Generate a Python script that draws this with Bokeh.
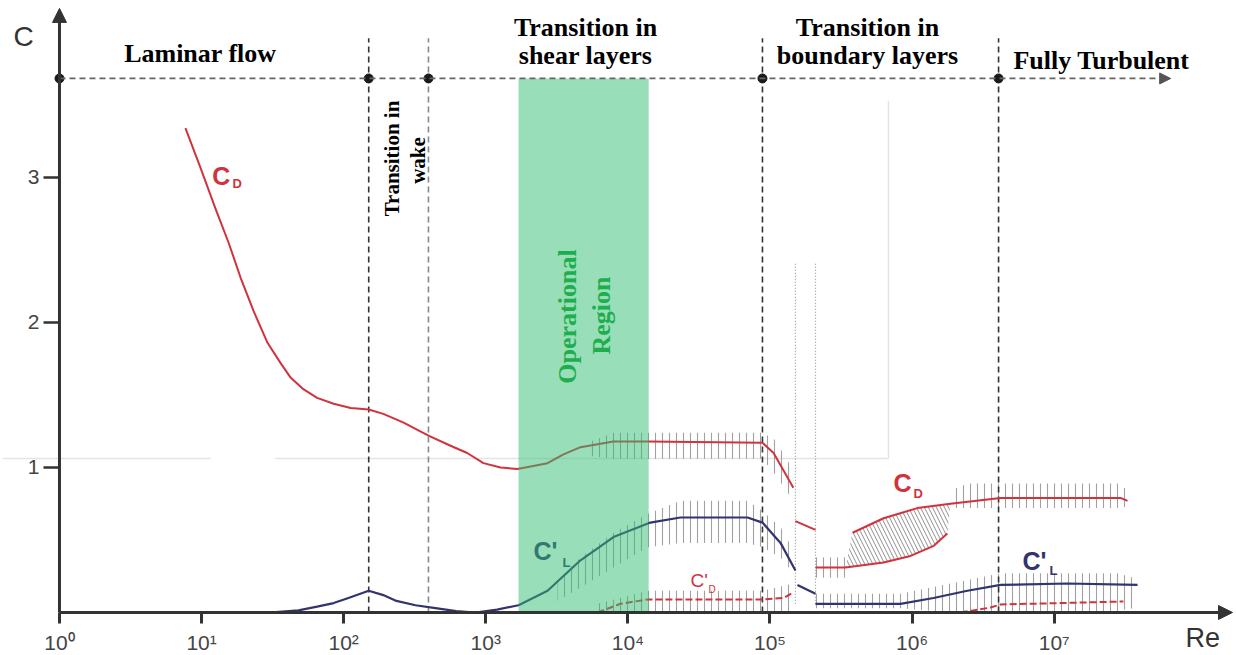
import numpy as np
from bokeh.plotting import figure
from bokeh.models import Range1d, FixedTicker, Label, Arrow, NormalHead
from bokeh.embed import file_html
from bokeh.resources import INLINE

# ---------------- data (Re, C) ----------------
CD_RE = [7.7, 9.8, 12.7, 15.5, 18.8, 23.2, 29.1, 36, 42.3, 52, 65, 85, 112, 150, 190, 264, 395, 565, 740,
         963, 1270, 1670, 2720, 3520, 4640, 7900, 13800, 88500, 106000, 146000]
CD_C = [3.34, 3.07, 2.77, 2.55, 2.31, 2.08, 1.86, 1.72, 1.62, 1.54, 1.48, 1.44, 1.41, 1.40, 1.37, 1.31, 1.22,
        1.15, 1.10, 1.03, 1.00, 0.99, 1.03, 1.09, 1.14, 1.18, 1.18, 1.17, 1.10, 0.86]
CD_MID_RE = [151000, 209000]
CD_MID_C = [0.63, 0.57]
CD_LOW_RE = [209000, 340000, 630000, 975000, 1420000, 1770000]
CD_LOW_C = [0.31, 0.31, 0.345, 0.39, 0.46, 0.545]
CD_UP_RE = [381000, 630000, 1090000, 1860000, 4190000, 21200000, 29300000, 32800000]
CD_UP_C = [0.55, 0.65, 0.72, 0.75, 0.79, 0.79, 0.79, 0.77]

CL_RE = [30, 48, 65, 85, 108, 150, 190, 235, 320, 443, 620, 847, 1200, 1700, 2720, 4640, 7920,
         14400, 23400, 69500, 88500, 118600, 151000]
CL_C = [0.0, 0.015, 0.04, 0.065, 0.10, 0.15, 0.12, 0.08, 0.05, 0.03, 0.01, 0.0, 0.02, 0.05, 0.15, 0.36, 0.52,
        0.62, 0.655, 0.655, 0.62, 0.48, 0.29]
CL_MID_RE = [156000, 209000]
CL_MID_C = [0.19, 0.13]
CL_RIGHT_RE = [209000, 828000, 1415000, 2450000, 4190000, 12400000, 38600000]
CL_RIGHT_C = [0.06, 0.06, 0.10, 0.15, 0.19, 0.20, 0.19]

CPD_RE = [6100, 8870, 13750, 90000, 124500, 146300]
CPD_C = [0.0, 0.06, 0.09, 0.09, 0.10, 0.14]
CPD_RIGHT_RE = [2190000, 3560000, 4190000, 30700000]
CPD_RIGHT_C = [0.0, 0.034, 0.055, 0.076]

# scatter bands (Re, lower C, upper C)
BAND_CD_RE = [5460, 7920, 13750, 32400, 88500, 109000, 146000]
BAND_CD_LO = [1.08, 1.06, 1.06, 1.06, 1.06, 0.95, 0.77]
BAND_CD_HI = [1.18, 1.24, 1.24, 1.24, 1.24, 1.19, 0.98]
BAND_CL_RE = [3200, 4640, 7920, 13750, 23400, 69500, 88500, 118600, 146300]
BAND_CL_LO = [0.08, 0.17, 0.31, 0.45, 0.48, 0.48, 0.45, 0.38, 0.27]
BAND_CL_HI = [0.22, 0.38, 0.55, 0.68, 0.77, 0.77, 0.70, 0.59, 0.43]
BAND_CPD_RE = [6100, 13750, 88500, 146300]
BAND_CPD_LO = [0.0, 0.0, 0.0, 0.0]
BAND_CPD_HI = [0.06, 0.15, 0.15, 0.20]
BAND_CD2_RE = [1860000, 2450000, 27900000, 33400000]
BAND_CD2_LO = [0.72, 0.72, 0.72, 0.73]
BAND_CD2_HI = [0.84, 0.89, 0.89, 0.84]
BAND_CL2_RE = [209000, 828000, 1860000, 4190000, 27900000, 36100000]
BAND_CL2_LO = [0.03, 0.03, 0.0, 0.0, 0.01, 0.03]
BAND_CL2_HI = [0.13, 0.13, 0.20, 0.27, 0.27, 0.24]
BAND_CDLOW_RE = [209000, 340000]
BAND_CDLOW_LO = [0.24, 0.24]
BAND_CDLOW_HI = [0.38, 0.38]

# regime boundaries
TRANSITION_RE = [150, 395, 88500, 4060000]
TRANSITION_DARK = [True, False, True, True]
JUMP_RE = [151000, 209000]
OPERATIONAL_RE = [1700, 14000]
REGIME_C = 3.683
X_TICKS = [1, 10, 100, 1000, 10000, 100000, 1000000, 10000000]
X_TICK_LABELS = ["10⁰", "10¹", "10²", "10³", "10⁴", "10⁵", "10⁶", "10⁷"]
Y_TICKS = [1, 2, 3]

# ---------------- figure ----------------
X_START, X_END = 0.3845, 1.857e8
Y_START, Y_END = -0.2828, 4.2207
X_TIP, Y_TIP = 1.798e8, 4.166
p = figure(width=1234, height=653, x_axis_type="log", output_backend="svg", toolbar_location=None,
           x_range=Range1d(X_START, X_END), y_range=Range1d(Y_START, Y_END),
           min_border_left=0, min_border_right=0, min_border_top=0, min_border_bottom=0)
p.xgrid.visible = False
p.ygrid.visible = False
p.outline_line_color = None
p.background_fill_color = "white"

p.xaxis.fixed_location = 0
p.yaxis.fixed_location = 1
p.xaxis.ticker = FixedTicker(ticks=X_TICKS)
p.xaxis.major_label_overrides = {t: l for t, l in zip(X_TICKS, X_TICK_LABELS)}
p.yaxis.ticker = FixedTicker(ticks=Y_TICKS)
p.axis.axis_line_color = None
p.axis.minor_tick_line_color = None
p.axis.major_tick_in = 0
p.axis.major_tick_line_color = "#333333"
p.xaxis.major_tick_out = 11
p.xaxis.major_tick_line_width = 3
p.yaxis.major_tick_out = 16
p.yaxis.major_tick_line_width = 2.5
p.xaxis.major_label_standoff = 8
p.yaxis.major_label_standoff = 4
p.axis.major_label_text_font = "Liberation Sans"
p.axis.major_label_text_font_size = "21px"
p.axis.major_label_text_color = "#444444"

# faint background frame lines
GHOST = dict(line_color="#e4e4e4", line_width=1.5)
p.line([0.4, 11.6], [1.062, 1.062], **GHOST)
p.line([33, 682000, 682000], [1.062, 1.062, 3.53], **GHOST)

# scatter bands (vertical hatching)
def band(re, lo, hi):
    xs = list(re) + list(re)[::-1]
    ys = list(hi) + list(lo)[::-1]
    p.patch(xs, ys, fill_alpha=0, line_alpha=0, hatch_pattern="|", hatch_color="#8a8a8a",
            hatch_scale=7, hatch_weight=1.1, hatch_alpha=0.8)

band(BAND_CD_RE, BAND_CD_LO, BAND_CD_HI)
band(BAND_CL_RE, BAND_CL_LO, BAND_CL_HI)
band(BAND_CPD_RE, BAND_CPD_LO, BAND_CPD_HI)
band(BAND_CD2_RE, BAND_CD2_LO, BAND_CD2_HI)
band(BAND_CL2_RE, BAND_CL2_LO, BAND_CL2_HI)
band(BAND_CDLOW_RE, BAND_CDLOW_LO, BAND_CDLOW_HI)

# diagonal hatched wedge between the two C_D branches
up = [(r, c) for r, c in zip(CD_UP_RE, CD_UP_C) if r <= 1.86e6]
lo = [(r, c) for r, c in zip(CD_LOW_RE, CD_LOW_C) if r >= 3.4e5][::-1]
p.patch([r for r, _ in up + lo], [c for _, c in up + lo], fill_alpha=0, line_alpha=0,
        hatch_pattern="\\", hatch_color="#8a8a8a", hatch_scale=8, hatch_weight=1.1, hatch_alpha=0.8)

# dotted jump lines
for r in JUMP_RE:
    p.line([r, r], [0.06, 2.41], line_color="#9a9a9a", line_width=1.2, line_dash="1 2")

# regime boundaries
for r, dark in zip(TRANSITION_RE, TRANSITION_DARK):
    p.line([r, r], [0, 3.96], line_color="#333333" if dark else "#888888", line_width=1.6,
           line_dash="6 4")

# curves
RED = "#d0333d"
NAVY = "#33336f"
p.line(CD_RE, CD_C, line_color=RED, line_width=2, line_join="round")
p.line(CD_MID_RE, CD_MID_C, line_color=RED, line_width=2)
p.line(CD_LOW_RE, CD_LOW_C, line_color=RED, line_width=2, line_join="round")
p.line(CD_UP_RE, CD_UP_C, line_color=RED, line_width=2, line_join="round")
p.line(CL_RE, CL_C, line_color=NAVY, line_width=2.2, line_join="round")
p.line(CL_MID_RE, CL_MID_C, line_color=NAVY, line_width=2.2)
p.line(CL_RIGHT_RE, CL_RIGHT_C, line_color=NAVY, line_width=2.2, line_join="round")
p.line(CPD_RE, CPD_C, line_color=RED, line_width=2, line_dash="7 3")
p.line(CPD_RIGHT_RE, CPD_RIGHT_C, line_color=RED, line_width=2, line_dash="7 3")

# curve labels
def clabel(x, y, txt, color, size, bold=True):
    p.text([x], [y], text=[txt], text_color=color, text_font_size=size,
           text_font={"value": "Liberation Sans"}, text_font_style="bold" if bold else "normal",
           text_align="left", text_baseline="alphabetic")

clabel(11.9, 3.011, "C", RED, "25px")
clabel(16.5, 2.958, "D", RED, "13px")
clabel(739000, 0.894, "C", RED, "25px")
clabel(1023000, 0.820, "D", RED, "13px")
clabel(2167, 0.425, "C'", NAVY, "25px")
clabel(3467, 0.344, "L", NAVY, "13px")
clabel(5980000, 0.356, "C'", NAVY, "25px")
clabel(9270000, 0.289, "L", NAVY, "13px")
clabel(27600, 0.222, "C'", RED, "19px", bold=False)
clabel(36900, 0.157, "D", RED, "10px", bold=False)

# operational region
p.quad(left=[OPERATIONAL_RE[0]], right=[OPERATIONAL_RE[1]], bottom=[0], top=[REGIME_C],
       fill_color="#31bd71", fill_alpha=0.5, line_color=None)

# dashed regime line with arrow and dots
p.add_layout(Arrow(end=NormalHead(size=11, fill_color="#555555", line_color="#555555"),
                   x_start=1, y_start=REGIME_C, x_end=6.6e7, y_end=REGIME_C,
                   line_color="#666666", line_width=1.8, line_dash="6 4"))
p.scatter([1] + TRANSITION_RE, [REGIME_C] * (len(TRANSITION_RE) + 1), size=9, color="#1a1a1a")

# axes arrows
p.add_layout(Arrow(end=NormalHead(size=14, fill_color="#333333", line_color="#333333"),
                   x_start=1, y_start=0, x_end=X_TIP, y_end=0, line_color="#333333", line_width=3))
p.add_layout(Arrow(end=NormalHead(size=14, fill_color="#333333", line_color="#333333"),
                   x_start=1, y_start=0, x_end=1, y_end=Y_TIP, line_color="#333333", line_width=3))

# axis titles
p.add_layout(Label(x=0.4745, y=3.970, text="C", text_font="Liberation Sans", text_font_size="28px",
                   text_color="#333333", text_align="left", text_baseline="alphabetic"))
p.add_layout(Label(x=8.4e7, y=-0.177, text="Re", text_font="Liberation Sans", text_font_size="27px",
                   text_color="#333333", text_align="left", text_baseline="alphabetic"))

# regime titles
def rlabel(x, y, txt, size="26px", color="black", angle=0.0):
    p.add_layout(Label(x=x, y=y, text=txt, text_font="Liberation Serif", text_font_style="bold",
                       text_font_size=size, text_color=color, text_align="center",
                       text_baseline="alphabetic", angle=angle))

rlabel(9.8, 3.854, "Laminar flow")
rlabel(5035, 4.034, "Transition in")
rlabel(5035, 3.840, "shear layers")
rlabel(485500, 4.034, "Transition in")
rlabel(485500, 3.840, "boundary layers")
rlabel(2.15e7, 3.806, "Fully Turbulent")
rlabel(220, 3.131, "Transition in", size="21px", angle=np.pi / 2)
rlabel(336, 3.117, "wake", size="21px", angle=np.pi / 2)
rlabel(3755, 2.041, "Operational", size="26px", color="#1eae4e", angle=np.pi / 2)
rlabel(6523, 2.048, "Region", size="26px", color="#1eae4e", angle=np.pi / 2)

open("out.html", "w").write(file_html(p, INLINE))
